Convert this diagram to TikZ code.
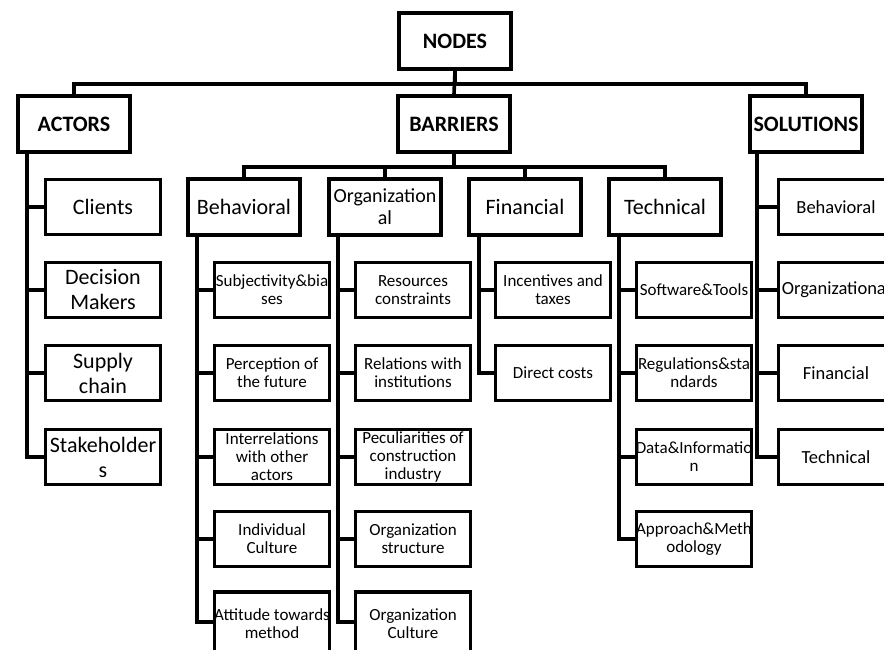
\documentclass[tikz,border=0pt]{standalone}
\usepackage{fontspec}
\setmainfont{Carlito}
\newcommand{\spilltext}[1]{\makebox[0pt]{#1}}
\tikzset{
  head/.style={draw, line width=3.6pt, minimum width=112pt, minimum height=56pt, inner sep=0pt, font=\fontsize{22}{24}\selectfont\bfseries},
  group/.style={draw, line width=3.6pt, minimum width=112pt, minimum height=56pt, inner sep=0pt, align=center, font=\fontsize{22}{24}\selectfont},
  leaf/.style={group, minimum width=115pt, minimum height=55pt, font=\fontsize{17}{18}\selectfont},
  lastleaf/.style={leaf, minimum height=64pt},
  link/.style={line width=3.6pt}
}
\begin{document}
\begin{tikzpicture}[x=1pt, y=-1pt]

\useasboundingbox (0,0) rectangle (884,650);
\clip (0,0) rectangle (884,650);

% Top level
\node[head] (nodes) at (455,41) {NODES};
\node[head] (actors) at (74,124) {ACTORS};
\node[head] (barriers) at (454,124) {BARRIERS};
\node[head] (solutions) at (806,124) {SOLUTIONS};

% Kinds of barriers
\node[group] (behav) at (244,207) {Behavioral};
\node[group, font=\fontsize{20}{22}\selectfont] (organ) at (385,207) {Organization\\al};
\node[group] (finan) at (525,207) {Financial};
\node[group] (techn) at (665,207) {Technical};

% Actors
\node[leaf, font=\fontsize{22}{24}\selectfont] (clients) at (103,207) {Clients};
\node[leaf, font=\fontsize{22}{25}\selectfont] (makers) at (103,290) {Decision\\Makers};
\node[leaf, font=\fontsize{22}{25}\selectfont] (supply) at (103,373) {Supply\\chain};
\node[leaf, font=\fontsize{22}{25}\selectfont] (stake) at (103,457) {\spilltext{Stakeholder}\\s};

% Behavioral barriers
\node[leaf] (subj) at (272,290) {\spilltext{Subjectivity\&bia}\\ses};
\node[leaf] (percep) at (272,373) {Perception of\\the future};
\node[leaf] (inter) at (272,457) {Interrelations\\with other\\actors};
\node[leaf] (indiv) at (272,539) {Individual\\Culture};
\node[lastleaf] (attit) at (272,624) {\spilltext{Attitude towards}\\method};

% Organizational barriers
\node[leaf] (resour) at (413,290) {Resources\\constraints};
\node[leaf] (relat) at (413,373) {Relations with\\institutions};
\node[leaf] (pecul) at (413,457) {Peculiarities of\\construction\\industry};
\node[leaf] (struct) at (413,539) {Organization\\structure};
\node[lastleaf] (culture) at (413,624) {Organization\\Culture};

% Financial barriers
\node[leaf] (incent) at (553,290) {Incentives and\\taxes};
\node[leaf] (direct) at (553,373) {Direct costs};

% Technical barriers
\node[leaf] (soft) at (694,290) {\spilltext{Software\&Tools}};
\node[leaf] (regul) at (694,373) {\spilltext{Regulations\&sta}\\ndards};
\node[leaf] (data) at (694,457) {\spilltext{Data\&Informatio}\\n};
\node[leaf] (approach) at (694,539) {\spilltext{Approach\&Meth}\\odology};

% Solutions
\node[leaf, font=\fontsize{18.5}{20}\selectfont] (sbehav) at (836,207) {Behavioral};
\node[leaf, font=\fontsize{18.5}{20}\selectfont] (sorgan) at (836,290) {Organizational};
\node[leaf, font=\fontsize{18.5}{20}\selectfont] (sfinan) at (836,373) {Financial};
\node[leaf, font=\fontsize{18.5}{20}\selectfont] (stechn) at (836,457) {Technical};

% Spines of the lists
\coordinate (aspine) at ([xshift=11pt]actors.south west);
\coordinate (bspine) at ([xshift=11pt]behav.south west);
\coordinate (ospine) at ([xshift=11pt]organ.south west);
\coordinate (fspine) at ([xshift=12pt]finan.south west);
\coordinate (tspine) at ([xshift=12pt]techn.south west);
\coordinate (sspine) at ([xshift=9pt]solutions.south west);

% Tree links
\draw[link] (nodes.south) -- (barriers.north);
\draw[link] (nodes.south) -- ++(0,13) -| (actors.north);
\draw[link] (nodes.south) -- ++(0,13) -| (solutions.north);
\draw[link] (barriers.south) -- ++(0,13) -| (behav.north)
  (barriers.south) -- ++(0,13) -| (organ.north)
  (barriers.south) -- ++(0,13) -| (finan.north)
  (barriers.south) -- ++(0,13) -| (techn.north);

% List links
\draw[link] (aspine) |- (clients.west) (aspine) |- (makers.west)
  (aspine) |- (supply.west) (aspine) |- (stake.west);
\draw[link] (bspine) |- (subj.west) (bspine) |- (percep.west)
  (bspine) |- (inter.west) (bspine) |- (indiv.west) (bspine) |- ([yshift=2pt]attit.west);
\draw[link] (ospine) |- (resour.west) (ospine) |- (relat.west)
  (ospine) |- (pecul.west) (ospine) |- (struct.west) (ospine) |- ([yshift=2pt]culture.west);
\draw[link] (fspine) |- (incent.west) (fspine) |- (direct.west);
\draw[link] (tspine) |- (soft.west) (tspine) |- (regul.west)
  (tspine) |- (data.west) (tspine) |- (approach.west);
\draw[link] (sspine) |- (sbehav.west) (sspine) |- (sorgan.west)
  (sspine) |- (sfinan.west) (sspine) |- (stechn.west);

\end{tikzpicture}
\end{document}
